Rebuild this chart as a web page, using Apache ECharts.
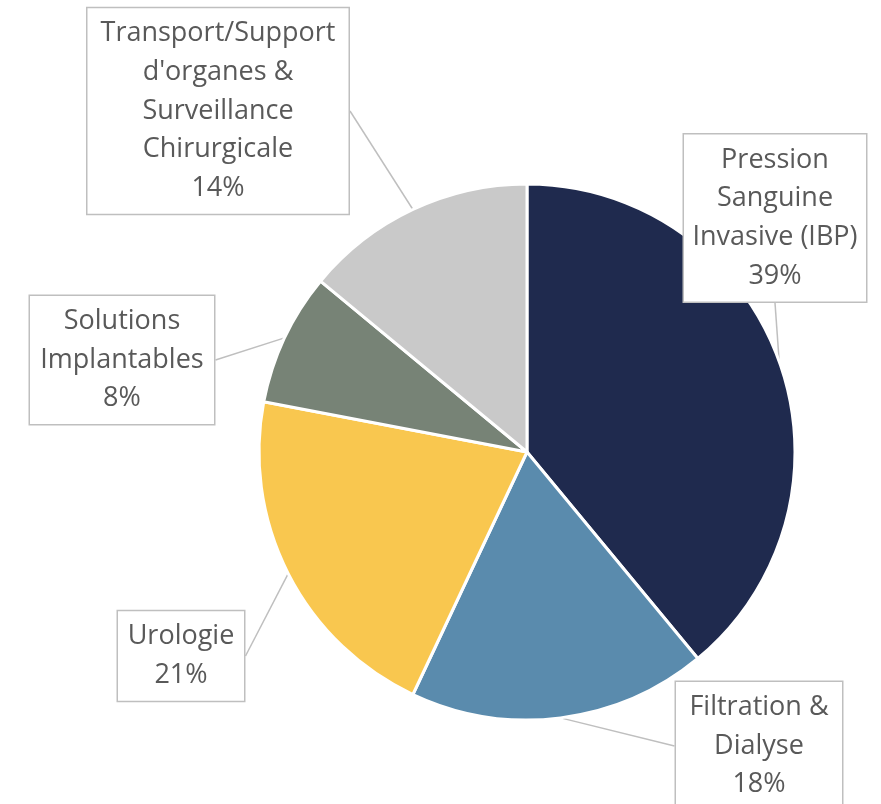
<!DOCTYPE html>
<html>
<head>
<meta charset="utf-8">
<script src="https://cdn.jsdelivr.net/npm/echarts@6/dist/echarts.min.js"></script>
<style>
  html, body { margin: 0; padding: 0; background: #fff; }
  #chart { width: 881px; height: 804px; }
</style>
</head>
<body>
<div id="chart"></div>
<script>
// catégories et parts (%)
const categories = [
  'Pression\nSanguine\nInvasive (IBP)',
  'Filtration &\nDialyse',
  'Urologie',
  'Solutions\nImplantables',
  "Transport/Support\nd'organes &\nSurveillance\nChirurgicale"
]
const values = [39, 18, 21, 8, 14]
const colors = ['#1f2a4e', '#5a8bad', '#f9c74f', '#778376', '#c9c9c9']

// position des étiquettes (centre de la boîte) et largeur du texte
const labelBoxes = [
  { x: 775, y: 218, w: 166 },
  { x: 759, y: 746, w: 150 },
  { x: 181, y: 656, w: 110 },
  { x: 122, y: 360, w: 168 },
  { x: 218, y: 111, w: 245 }
]

const chart = echarts.init(document.getElementById('chart'))
const option = {
  animation: false,
  series: [
    {
      type: 'pie',
      center: [527, 452],
      radius: 268,
      startAngle: 90,
      clockwise: true,
      itemStyle: { borderColor: '#fff', borderWidth: 3 },
      label: {
        show: true,
        position: 'outside',
        fontFamily: 'Open Sans',
        fontSize: 27,
        lineHeight: 38.7,
        color: '#595959',
        align: 'center',
        overflow: 'none',
        backgroundColor: '#fff',
        borderColor: '#bfbfbf',
        borderWidth: 1.5,
        padding: [10, 8, 2, 8],
        formatter: (p) => p.name + '\n' + Math.round(p.percent) + '%'
      },
      labelLine: {
        show: true,
        length: 10,
        length2: 0,
        lineStyle: { color: '#bfbfbf', width: 1.5 }
      },
      labelLayout: (params) => {
        const b = labelBoxes[params.dataIndex]
        return { x: b.x, y: b.y, align: 'center', verticalAlign: 'middle' }
      },
      data: categories.map((name, i) => ({
        name: name,
        value: values[i],
        itemStyle: { color: colors[i] },
        label: { width: labelBoxes[i].w }
      }))
    }
  ]
}
chart.setOption(option)
</script>
</body>
</html>
